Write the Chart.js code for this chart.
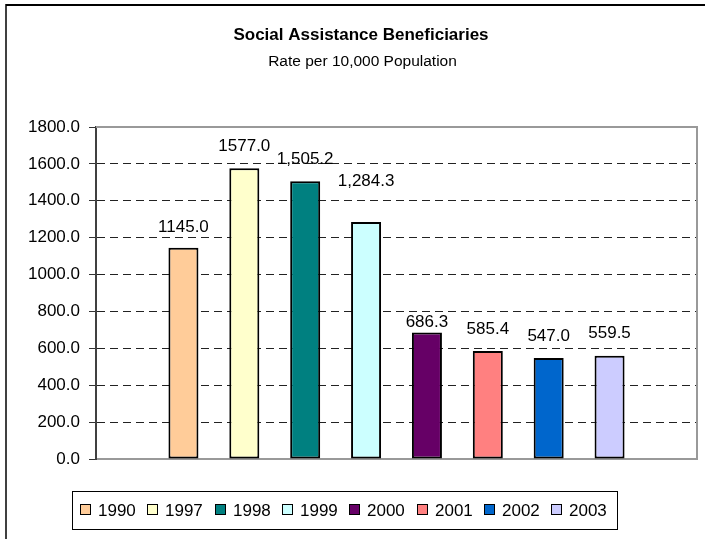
<!DOCTYPE html>
<html>
<head>
<meta charset="utf-8">
<script src="https://cdn.jsdelivr.net/npm/chart.js@4/dist/chart.umd.min.js"></script>
<style>
  html, body { margin: 0; padding: 0; background: #fff; }
  #wrap { width: 705px; height: 539px; position: relative; }
</style>
</head>
<body>
<div id="wrap"><canvas id="c" width="705" height="539"></canvas></div>
<script>
// ---- data ----
const years = ['1990', '1997', '1998', '1999', '2000', '2001', '2002', '2003'];
const rates = [1145.0, 1577.0, 1505.2, 1284.3, 686.3, 585.4, 547.0, 559.5];
const valueLabels = ['1145.0', '1577.0', '1,505.2', '1,284.3', '686.3', '585.4', '547.0', '559.5'];
const titleText = 'Social Assistance Beneficiaries';
const subtitleText = 'Rate per 10,000 Population';
const yMin = 0;
const yMax = 1800;
const yStep = 200;

// ---- style ----
const barColors = ['#FFCC99', '#FFFFCC', '#008080', '#CCFFFF', '#660066', '#FF8080', '#0066CC', '#CCCCFF'];
const labelOffsets = [-20, -22, -22, -41, -10, -22, -22, -22];
const FONT = "'Liberation Sans', Arial, sans-serif";

const frame = {
  id: 'frame',
  beforeDraw(chart) {
    const ctx = chart.ctx;
    ctx.save();
    ctx.fillStyle = '#fff';
    ctx.fillRect(0, 0, chart.width, chart.height);
    ctx.strokeStyle = '#000';
    ctx.lineWidth = 2;
    ctx.beginPath();
    ctx.moveTo(chart.width, 5);
    ctx.lineTo(6, 5);
    ctx.stroke();
    ctx.lineWidth = 1.5;
    ctx.beginPath();
    ctx.moveTo(6, 4);
    ctx.lineTo(6, chart.height);
    ctx.stroke();
    // titles
    ctx.fillStyle = '#000';
    ctx.textAlign = 'center';
    ctx.textBaseline = 'middle';
    ctx.font = 'bold 17px ' + FONT;
    ctx.fillText(titleText, 361, 35);
    ctx.font = '15.5px ' + FONT;
    ctx.fillText(subtitleText, 362.5, 62);
    ctx.restore();
  },
  afterDatasetsDraw(chart) {
    const { ctx, chartArea: a } = chart;
    ctx.save();
    ctx.strokeStyle = '#999';
    ctx.lineWidth = 2;
    ctx.beginPath();
    ctx.moveTo(a.left, a.top);
    ctx.lineTo(a.right, a.top);
    ctx.lineTo(a.right, a.bottom);
    ctx.stroke();
    ctx.restore();
  }
};

const valueLabelPlugin = {
  id: 'valueLabels',
  afterDatasetsDraw(chart) {
    const ctx = chart.ctx;
    ctx.save();
    ctx.font = '17px ' + FONT;
    ctx.fillStyle = '#000';
    ctx.textAlign = 'center';
    ctx.textBaseline = 'middle';
    chart.data.datasets.forEach((ds, i) => {
      const meta = chart.getDatasetMeta(i);
      meta.data.forEach((bar) => {
        ctx.fillText(valueLabels[i], bar.x, bar.y + labelOffsets[i]);
      });
    });
    ctx.restore();
  }
};

const boxLegend = {
  id: 'boxLegend',
  afterDraw(chart) {
    const ctx = chart.ctx;
    const boxL = 72, boxT = 491, boxW = 545, boxH = 38;
    ctx.save();
    ctx.strokeStyle = '#000';
    ctx.lineWidth = 1;
    ctx.strokeRect(boxL + 0.5, boxT + 0.5, boxW, boxH);
    ctx.font = '17px ' + FONT;
    ctx.textBaseline = 'middle';
    ctx.textAlign = 'left';
    const cy = boxT + boxH / 2;
    chart.data.datasets.forEach((ds, i) => {
      const x = 80 + i * 67.3;
      ctx.fillStyle = ds.backgroundColor;
      ctx.fillRect(Math.round(x), Math.round(cy - 6), 11, 11);
      ctx.strokeStyle = '#000';
      ctx.lineWidth = 1;
      ctx.strokeRect(Math.round(x) + 0.5, Math.round(cy - 6) + 0.5, 10, 10);
      ctx.fillStyle = '#000';
      ctx.fillText(ds.label, Math.round(x) + 18, cy + 1);
    });
    ctx.restore();
  }
};

const datasets = years.map((y, i) => ({
  label: y,
  data: [rates[i]],
  backgroundColor: barColors[i],
  borderColor: '#000',
  borderWidth: 2,
  borderSkipped: false,
  barPercentage: 0.493,
  categoryPercentage: 0.8103
}));

new Chart(document.getElementById('c'), {
  type: 'bar',
  data: { labels: [''], datasets },
  options: {
    responsive: false,
    animation: false,
    devicePixelRatio: 1,
    layout: { padding: { left: 0, right: 8, top: 127, bottom: 80 } },
    plugins: {
      legend: { display: false },
      tooltip: { enabled: false },
      title: { display: false },
      subtitle: { display: false }
    },
    scales: {
      x: {
        display: true,
        grid: { display: false, drawTicks: false },
        ticks: { display: false },
        border: { display: true, color: '#999', width: 2 },
        afterFit(s) { s.height = 0; }
      },
      y: {
        min: yMin,
        max: yMax,
        afterFit(s) { s.width = 96; },
        ticks: {
          stepSize: yStep,
          padding: 9,
          color: '#000',
          font: { family: FONT, size: 17 },
          callback: (v) => Number(v).toFixed(1)
        },
        grid: {
          color: (c) => (c.tick && (c.tick.value === yMin || c.tick.value === yMax)) ? 'rgba(0,0,0,0)' : '#222',
          tickColor: '#333',
          lineWidth: 1,
          tickBorderDash: [],
          drawTicks: true,
          tickLength: 7
        },
        border: { display: true, color: '#404040', width: 2, dash: [8, 5] }
      }
    }
  },
  plugins: [frame, valueLabelPlugin, boxLegend]
});
</script>
</body>
</html>
